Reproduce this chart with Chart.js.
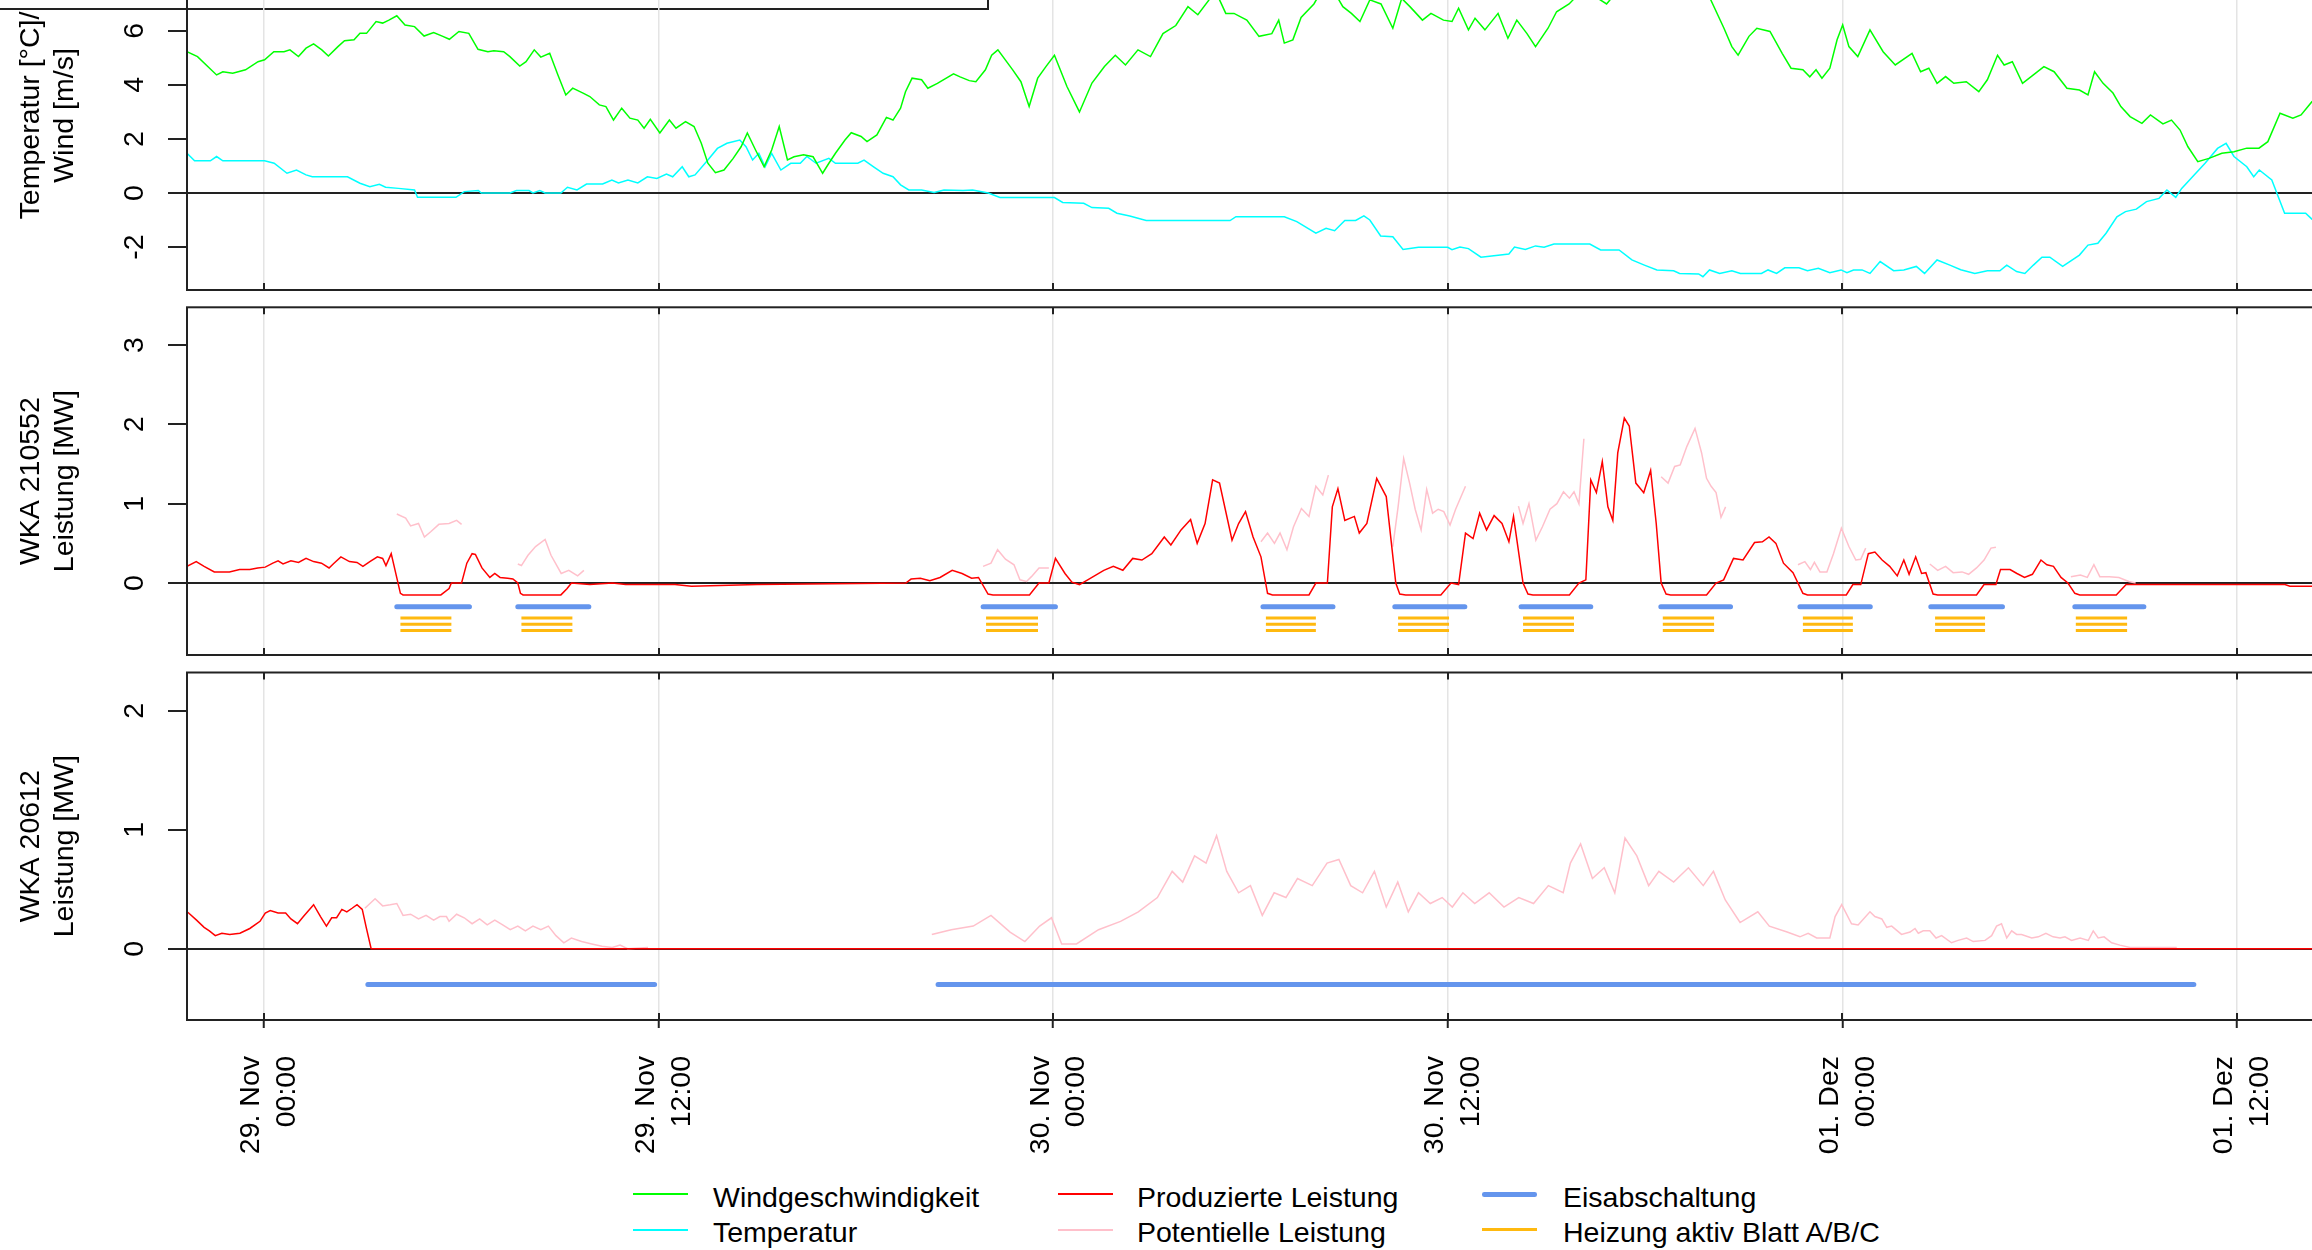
<!DOCTYPE html>
<html><head><meta charset="utf-8">
<script src="https://cdn.jsdelivr.net/npm/chart.js@4.4.1/dist/chart.umd.min.js"></script>
<style>
html,body{margin:0;padding:0;width:2312px;height:1250px;overflow:hidden;background:#fff;position:relative}
canvas{position:absolute;left:0}
.box{position:absolute;left:-20px;top:-100px;width:1009px;height:110px;border:2px solid #222;box-sizing:border-box}
.leg{position:absolute;font-family:"Liberation Sans",Arial,sans-serif;font-size:28.5px;line-height:32px;color:#000;white-space:nowrap}
.ln{position:absolute;height:0}
</style></head><body>
<div class="box"></div>
<canvas id="c1" width="2340" height="359" style="top:-59px"></canvas>
<canvas id="c2" width="2340" height="368" style="top:297px"></canvas>
<canvas id="c3" width="2340" height="498" style="top:662px"></canvas>
<div id="legend"></div>
<script>
// ---------- data (hours relative to 29. Nov 00:00) ----------
const tickHours = [0, 12, 24, 36, 48, 60];
const tickLabels = [['29. Nov','00:00'],['29. Nov','12:00'],['30. Nov','00:00'],['30. Nov','12:00'],['01. Dez','00:00'],['01. Dez','12:00']];
const xRange = [-2.34, 62.83];

const wind = [[-2.34,5.23],[-2.02,5.05],[-1.44,4.37],[-1.25,4.49],[-0.95,4.43],[-0.56,4.56],[-0.18,4.86],[0.02,4.93],[0.30,5.23],[0.61,5.23],[0.79,5.30],[1.05,5.05],[1.28,5.36],[1.51,5.52],[1.76,5.30],[1.96,5.07],[2.25,5.42],[2.45,5.64],[2.74,5.67],[2.92,5.91],[3.12,5.91],[3.41,6.35],[3.61,6.29],[3.80,6.40],[4.04,6.56],[4.29,6.22],[4.58,6.16],[4.87,5.81],[5.16,5.94],[5.44,5.80],[5.64,5.69],[5.93,5.98],[6.23,5.91],[6.51,5.32],[6.81,5.23],[6.99,5.27],[7.29,5.23],[7.48,5.05],[7.78,4.70],[7.97,4.86],[8.22,5.30],[8.42,5.03],[8.69,5.17],[8.94,4.37],[9.18,3.63],[9.39,3.88],[9.72,3.69],[9.91,3.57],[10.20,3.26],[10.40,3.20],[10.63,2.70],[10.88,3.14],[11.13,2.77],[11.37,2.70],[11.56,2.40],[11.75,2.73],[12.04,2.22],[12.33,2.70],[12.53,2.40],[12.82,2.64],[13.08,2.46],[13.30,1.84],[13.50,1.10],[13.73,0.75],[13.99,0.85],[14.27,1.28],[14.51,1.71],[14.70,2.22],[14.95,1.59],[15.21,0.97],[15.44,1.59],[15.67,2.46],[15.92,1.22],[16.12,1.34],[16.41,1.41],[16.70,1.34],[16.99,0.73],[17.18,1.10],[17.38,1.47],[17.67,1.96],[17.86,2.23],[18.16,2.09],[18.34,1.90],[18.64,2.15],[18.93,2.80],[19.13,2.70],[19.36,3.14],[19.51,3.75],[19.71,4.25],[20.00,4.19],[20.19,3.88],[20.48,4.06],[20.97,4.41],[21.17,4.30],[21.45,4.16],[21.65,4.12],[21.94,4.56],[22.13,5.10],[22.32,5.30],[22.77,4.56],[23.02,4.12],[23.27,3.20],[23.53,4.25],[23.78,4.68],[24.04,5.10],[24.42,3.94],[24.80,3.00],[25.18,4.07],[25.56,4.68],[25.89,5.10],[26.20,4.74],[26.58,5.30],[26.96,5.05],[27.34,5.90],[27.73,6.20],[28.10,6.90],[28.40,6.60],[28.74,7.15],[28.89,7.60],[29.25,6.65],[29.50,6.65],[29.89,6.40],[30.26,5.80],[30.65,5.90],[30.86,6.40],[31.03,5.55],[31.29,5.67],[31.54,6.50],[31.93,7.00],[32.17,7.50],[32.57,7.40],[32.81,6.90],[33.07,6.65],[33.33,6.35],[33.63,7.15],[33.97,7.00],[34.33,6.10],[34.60,7.20],[34.85,6.90],[35.23,6.40],[35.49,6.65],[35.87,6.40],[36.13,6.35],[36.33,6.84],[36.63,6.04],[36.83,6.47],[37.13,6.04],[37.53,6.65],[37.83,5.73],[38.10,6.40],[38.41,5.90],[38.67,5.42],[39.05,6.10],[39.31,6.71],[39.69,7.00],[39.93,7.30],[40.32,7.40],[40.83,7.00],[41.24,7.60],[41.85,8.00],[42.45,7.80],[43.06,7.90],[43.67,7.50],[44.00,7.15],[44.40,6.10],[44.64,5.42],[44.83,5.10],[45.16,5.80],[45.40,6.10],[45.80,5.98],[46.17,5.17],[46.44,4.62],[46.80,4.56],[47.01,4.30],[47.20,4.56],[47.38,4.25],[47.62,4.62],[47.84,5.67],[48.01,6.22],[48.20,5.42],[48.47,5.05],[48.84,6.04],[49.24,5.23],[49.61,4.74],[50.12,5.17],[50.38,4.49],[50.63,4.62],[50.88,4.06],[51.14,4.31],[51.39,4.06],[51.77,4.12],[52.15,3.75],[52.41,4.19],[52.72,5.10],[52.92,4.74],[53.17,4.86],[53.48,4.06],[53.81,4.37],[54.13,4.68],[54.44,4.49],[54.83,3.88],[55.21,3.81],[55.47,3.63],[55.67,4.49],[55.93,4.06],[56.23,3.70],[56.47,3.20],[56.75,2.83],[57.11,2.58],[57.37,2.89],[57.75,2.56],[58.01,2.70],[58.27,2.33],[58.51,1.71],[58.81,1.16],[59.15,1.28],[59.54,1.47],[59.91,1.53],[60.30,1.66],[60.67,1.66],[60.94,1.90],[61.31,2.95],[61.70,2.77],[61.95,2.89],[62.28,3.38],[62.83,3.60]];

const temperature = [[-2.34,1.47],[-2.11,1.19],[-1.63,1.19],[-1.44,1.35],[-1.25,1.19],[0.02,1.19],[0.31,1.10],[0.70,0.73],[0.99,0.85],[1.28,0.67],[1.47,0.60],[2.54,0.60],[2.92,0.36],[3.22,0.23],[3.51,0.32],[3.70,0.21],[4.09,0.17],[4.58,0.11],[4.67,-0.16],[5.84,-0.16],[6.09,0.05],[6.52,0.09],[6.61,0],[7.48,0],[7.68,0.09],[8.06,0.09],[8.18,0],[8.39,0.09],[8.55,0],[9.03,0],[9.23,0.21],[9.52,0.11],[9.81,0.33],[10.30,0.33],[10.58,0.48],[10.78,0.37],[11.07,0.48],[11.37,0.37],[11.66,0.60],[11.95,0.54],[12.24,0.70],[12.43,0.60],[12.72,0.97],[12.92,0.60],[13.11,0.67],[13.50,1.22],[13.79,1.65],[14.08,1.84],[14.47,1.96],[14.66,1.71],[14.86,1.22],[15.05,1.47],[15.24,0.97],[15.44,1.47],[15.72,0.85],[16.02,1.10],[16.31,1.10],[16.51,1.35],[16.79,1.10],[17.18,1.28],[17.38,1.10],[18.06,1.10],[18.25,1.22],[18.54,0.97],[18.83,0.73],[19.13,0.60],[19.36,0.30],[19.61,0.11],[20.00,0.11],[20.38,0.02],[20.68,0.11],[21.26,0.09],[21.55,0.11],[22.03,0],[22.38,-0.17],[24.04,-0.17],[24.29,-0.35],[24.93,-0.38],[25.18,-0.54],[25.69,-0.57],[25.94,-0.75],[26.33,-0.85],[26.83,-1.02],[29.38,-1.02],[29.56,-0.88],[31.03,-0.88],[31.41,-1.06],[31.99,-1.49],[32.30,-1.31],[32.56,-1.40],[32.87,-1.02],[33.20,-1.02],[33.45,-0.85],[33.63,-1.00],[33.96,-1.59],[34.33,-1.62],[34.64,-2.09],[35.11,-2.01],[36.00,-2.01],[36.13,-2.10],[36.37,-2.00],[36.63,-2.06],[37.01,-2.38],[37.86,-2.26],[38.03,-2.00],[38.36,-2.09],[38.67,-1.96],[38.93,-2.01],[39.23,-1.89],[40.32,-1.89],[40.65,-2.11],[41.21,-2.11],[41.60,-2.48],[41.98,-2.67],[42.36,-2.85],[42.87,-2.88],[43.05,-2.98],[43.63,-3.00],[43.76,-3.10],[43.96,-2.85],[44.27,-2.98],[44.64,-2.88],[44.90,-2.98],[45.54,-2.98],[45.74,-2.85],[46.00,-2.98],[46.25,-2.77],[46.68,-2.77],[46.94,-2.88],[47.27,-2.79],[47.62,-2.95],[47.96,-2.85],[48.14,-2.95],[48.34,-2.85],[48.60,-2.85],[48.84,-2.98],[49.15,-2.54],[49.56,-2.88],[49.87,-2.85],[50.25,-2.72],[50.50,-2.98],[50.88,-2.48],[51.27,-2.67],[51.60,-2.84],[52.03,-2.98],[52.41,-2.88],[52.79,-2.88],[53.00,-2.67],[53.30,-2.91],[53.55,-2.98],[53.81,-2.67],[54.07,-2.38],[54.31,-2.38],[54.70,-2.72],[55.21,-2.30],[55.47,-1.93],[55.77,-1.86],[56.02,-1.49],[56.35,-0.88],[56.61,-0.69],[56.94,-0.60],[57.25,-0.32],[57.63,-0.20],[57.87,0.11],[58.14,-0.16],[58.32,0.17],[58.65,0.60],[59.03,1.10],[59.41,1.65],[59.67,1.84],[59.91,1.35],[60.30,0.97],[60.51,0.60],[60.68,0.85],[61.06,0.48],[61.45,-0.75],[62.09,-0.75],[62.28,-0.97],[62.83,-1.00]];

const power210552 = [[-2.34,0.21],[-2.06,0.27],[-1.82,0.21],[-1.51,0.14],[-1.05,0.14],[-0.74,0.17],[-0.43,0.17],[-0.19,0.19],[0.04,0.20],[0.27,0.25],[0.43,0.28],[0.58,0.24],[0.82,0.28],[1.05,0.26],[1.28,0.31],[1.51,0.27],[1.75,0.25],[1.98,0.19],[2.13,0.25],[2.34,0.33],[2.60,0.27],[2.83,0.26],[3.01,0.21],[3.22,0.27],[3.45,0.33],[3.61,0.31],[3.71,0.22],[3.87,0.37],[4.15,-0.13],[4.23,-0.15],[5.38,-0.15],[5.63,-0.07],[5.70,0],[6.01,0],[6.17,0.25],[6.33,0.37],[6.43,0.36],[6.63,0.19],[6.87,0.07],[7.02,0.12],[7.18,0.07],[7.41,0.06],[7.57,0.05],[7.72,0],[7.80,-0.13],[7.88,-0.15],[9.03,-0.15],[9.22,-0.07],[9.35,0],[9.91,-0.02],[10.6,0],[11.0,-0.02],[12.5,-0.02],[13.0,-0.04],[15.0,-0.02],[19.52,0],[19.68,0.05],[19.96,0.06],[20.25,0.03],[20.56,0.07],[20.93,0.16],[21.23,0.12],[21.52,0.06],[21.73,0.07],[22.02,-0.14],[22.17,-0.15],[23.28,-0.15],[23.57,0],[23.87,0],[24.07,0.31],[24.36,0.12],[24.57,0.01],[24.80,-0.02],[25.09,0.05],[25.54,0.16],[25.83,0.21],[26.12,0.16],[26.42,0.31],[26.70,0.29],[27.00,0.37],[27.38,0.58],[27.58,0.48],[27.89,0.67],[28.18,0.80],[28.38,0.50],[28.62,0.75],[28.85,1.30],[29.06,1.26],[29.44,0.54],[29.64,0.75],[29.85,0.90],[30.08,0.58],[30.32,0.33],[30.52,-0.13],[30.67,-0.15],[31.78,-0.15],[31.99,0],[32.34,0],[32.49,0.96],[32.66,1.19],[32.87,0.79],[33.16,0.84],[33.31,0.63],[33.54,0.75],[33.84,1.32],[34.13,1.09],[34.42,0],[34.54,-0.14],[34.72,-0.15],[35.79,-0.15],[36.10,0],[36.33,-0.02],[36.54,0.63],[36.77,0.56],[36.97,0.88],[37.18,0.67],[37.41,0.85],[37.65,0.75],[37.86,0.52],[38.00,0.84],[38.29,0],[38.44,-0.14],[38.59,-0.15],[39.70,-0.15],[39.99,0],[40.20,0.04],[40.35,1.30],[40.52,1.14],[40.70,1.53],[40.87,0.96],[41.02,0.79],[41.17,1.64],[41.37,2.08],[41.52,1.98],[41.72,1.26],[41.96,1.14],[42.17,1.42],[42.34,0.75],[42.49,0],[42.64,-0.14],[42.78,-0.15],[43.87,-0.15],[44.16,0],[44.39,0.04],[44.69,0.31],[44.98,0.29],[45.33,0.51],[45.57,0.52],[45.77,0.58],[45.98,0.50],[46.21,0.25],[46.50,0.13],[46.80,-0.13],[46.94,-0.15],[48.12,-0.15],[48.32,-0.02],[48.56,-0.02],[48.79,0.37],[48.99,0.39],[49.21,0.29],[49.44,0.21],[49.67,0.09],[49.87,0.29],[50.03,0.11],[50.23,0.33],[50.41,0.12],[50.54,0.13],[50.76,-0.14],[50.90,-0.15],[52.08,-0.15],[52.31,-0.02],[52.67,-0.02],[52.81,0.17],[53.10,0.17],[53.31,0.12],[53.54,0.07],[53.78,0.11],[54.04,0.29],[54.22,0.23],[54.42,0.21],[54.65,0.07],[54.86,0],[55.07,-0.13],[55.22,-0.15],[56.33,-0.15],[56.63,-0.02],[61.46,-0.02],[61.61,-0.04],[62.83,-0.04]];

const potential210552 = [
 [[4.04,0.87],[4.31,0.82],[4.46,0.72],[4.70,0.75],[4.88,0.58],[5.08,0.65],[5.32,0.74],[5.63,0.75],[5.86,0.79],[6.01,0.74]],
 [[7.72,0.24],[7.83,0.22],[8.03,0.35],[8.26,0.46],[8.55,0.55],[8.73,0.35],[9.04,0.12],[9.27,0.16],[9.54,0.09],[9.73,0.16]],
 [[21.87,0.21],[22.11,0.25],[22.31,0.42],[22.55,0.30],[22.81,0.23],[22.99,0.04],[23.19,0.02],[23.34,0.08],[23.57,0.19],[23.87,0.19]],
 [[30.32,0.52],[30.52,0.63],[30.73,0.50],[30.90,0.63],[31.11,0.42],[31.31,0.71],[31.55,0.94],[31.78,0.84],[31.99,1.22],[32.20,1.11],[32.37,1.36]],
 [[34.33,0.46],[34.49,0.96],[34.66,1.57],[34.84,1.26],[35.01,0.93],[35.19,0.67],[35.36,1.18],[35.54,0.88],[35.71,0.93],[35.88,0.90],[36.07,0.73],[36.24,0.93],[36.54,1.22]],
 [[38.15,0.97],[38.29,0.75],[38.47,1.00],[38.68,0.54],[38.88,0.71],[39.11,0.93],[39.32,1.00],[39.52,1.15],[39.70,1.07],[39.84,1.15],[39.99,1.00],[40.14,1.82]],
 [[42.49,1.34],[42.70,1.26],[42.90,1.47],[43.07,1.49],[43.27,1.72],[43.52,1.95],[43.72,1.64],[43.87,1.32],[44.01,1.22],[44.16,1.14],[44.31,0.83],[44.45,0.96]],
 [[46.65,0.23],[46.86,0.27],[47.03,0.17],[47.15,0.26],[47.32,0.14],[47.53,0.14],[47.73,0.37],[47.97,0.69],[48.20,0.46],[48.41,0.29],[48.56,0.30],[48.71,0.44]],
 [[50.66,0.24],[50.90,0.16],[51.14,0.21],[51.37,0.13],[51.64,0.14],[51.84,0.11],[52.08,0.19],[52.31,0.29],[52.52,0.44],[52.67,0.45]],
 [[54.95,0.08],[55.24,0.10],[55.45,0.07],[55.65,0.23],[55.83,0.08],[56.12,0.08],[56.41,0.07],[56.71,0.02],[56.92,0]]
];
const iceStop210552 = [[4.04,6.25],[7.72,9.88],[21.87,24.07],[30.38,32.51],[34.39,36.52],[38.23,40.35],[42.48,44.60],[46.71,48.85],[50.69,52.87],[55.07,57.17]];
const heating210552 = [[4.15,5.70],[7.83,9.38],[21.96,23.54],[30.47,31.99],[34.49,36.04],[38.29,39.84],[42.54,44.10],[46.80,48.32],[50.82,52.34],[55.10,56.66]];

const power20612 = [[-2.34,0.31],[-2.29,0.30],[-2.05,0.24],[-1.82,0.18],[-1.66,0.15],[-1.48,0.11],[-1.28,0.13],[-1.04,0.12],[-0.73,0.13],[-0.43,0.17],[-0.12,0.23],[0.04,0.30],[0.19,0.32],[0.43,0.30],[0.66,0.30],[0.82,0.25],[1.02,0.21],[1.20,0.27],[1.51,0.37],[1.72,0.27],[1.90,0.19],[2.06,0.26],[2.21,0.26],[2.37,0.33],[2.52,0.31],[2.68,0.34],[2.83,0.37],[2.99,0.33],[3.11,0.18],[3.26,0],[62.83,0]];
const potential20612 = [
 [[3.07,0.34],[3.38,0.42],[3.61,0.36],[3.84,0.37],[4.04,0.38],[4.23,0.28],[4.46,0.29],[4.70,0.25],[4.93,0.28],[5.16,0.24],[5.35,0.27],[5.55,0.27],[5.63,0.23],[5.86,0.29],[6.09,0.26],[6.33,0.21],[6.56,0.25],[6.79,0.20],[7.02,0.24],[7.26,0.20],[7.49,0.16],[7.72,0.19],[7.95,0.15],[8.18,0.19],[8.42,0.16],[8.65,0.19],[8.88,0.11],[9.12,0.05],[9.35,0.09],[9.66,0.06],[9.97,0.04],[10.28,0.02],[10.59,0.01],[10.83,0.03],[11.06,0],[11.68,0.01]],
 [[20.31,0.12],[20.90,0.16],[21.57,0.19],[22.11,0.28],[22.69,0.14],[23.14,0.06],[23.59,0.19],[23.95,0.26],[24.26,0.04],[24.71,0.04],[25.38,0.16],[26.05,0.23],[26.59,0.31],[27.17,0.43],[27.62,0.65],[27.94,0.56],[28.30,0.78],[28.65,0.72],[28.97,0.95],[29.28,0.65],[29.64,0.47],[30.00,0.53],[30.36,0.28],[30.72,0.47],[31.08,0.43],[31.43,0.59],[31.88,0.53],[32.33,0.72],[32.69,0.75],[33.05,0.53],[33.41,0.47],[33.77,0.65],[34.13,0.35],[34.48,0.56],[34.80,0.31],[35.11,0.47],[35.47,0.38],[35.83,0.43],[36.14,0.35],[36.46,0.47],[36.82,0.38],[37.26,0.47],[37.71,0.35],[38.16,0.43],[38.61,0.38],[39.06,0.53],[39.51,0.47],[39.73,0.72],[40.04,0.88],[40.40,0.59],[40.76,0.68],[41.08,0.47],[41.39,0.93],[41.75,0.78],[42.11,0.53],[42.42,0.65],[42.87,0.56],[43.32,0.68],[43.77,0.53],[44.08,0.65],[44.44,0.41],[44.89,0.22],[45.43,0.31],[45.78,0.19],[46.32,0.14],[46.71,0.10],[46.96,0.13],[47.22,0.09],[47.62,0.09],[47.78,0.27],[47.98,0.37],[48.28,0.21],[48.48,0.20],[48.84,0.31],[48.99,0.27],[49.20,0.25],[49.35,0.18],[49.50,0.19],[49.80,0.12],[50.06,0.14],[50.21,0.17],[50.31,0.13],[50.46,0.15],[50.66,0.15],[50.85,0.09],[51.02,0.11],[51.32,0.05],[51.52,0.07],[51.78,0.09],[51.98,0.06],[52.34,0.07],[52.54,0.11],[52.69,0.19],[52.84,0.21],[53.00,0.09],[53.15,0.15],[53.30,0.12],[53.45,0.12],[53.76,0.09],[53.96,0.10],[54.19,0.13],[54.41,0.10],[54.62,0.09],[54.77,0.10],[54.97,0.07],[55.23,0.09],[55.48,0.07],[55.63,0.15],[55.78,0.09],[55.96,0.10],[56.19,0.05],[56.44,0.03],[56.75,0.01],[58.17,0.01]]
];
const iceStop20612 = [[3.16,11.88],[20.50,58.69]];

const iceLevel = -0.3;
const heatLevels = [-0.44, -0.52, -0.60];

const legendItems = [
  {label:'Windgeschwindigkeit', color:'#00ff00', w:2},
  {label:'Temperatur', color:'#00ffff', w:2},
  {label:'Produzierte Leistung', color:'#ff0000', w:2},
  {label:'Potentielle Leistung', color:'#ffc0cb', w:2},
  {label:'Eisabschaltung', color:'#6495ed', w:4.5},
  {label:'Heizung aktiv Blatt A/B/C', color:'#ffb90f', w:2.5}
];

// ---------- helpers ----------
const pts = a => a.map(([x, y]) => ({x, y}));
const segs = s => s.flatMap((seg, i) => (i ? [{x: seg[0][0], y: null}] : []).concat(pts(seg)));
const bars = (ranges, level) => ranges.flatMap(([a, b]) => [{x: a, y: level}, {x: b, y: level}, {x: b, y: null}]);

const FAM = '"Liberation Sans", Arial, sans-serif';
const F = {family: FAM, size: 28.5};
Chart.defaults.font.family = FAM;

const framePlugin = {
  id: 'frame',
  afterDraw(chart) {
    const {ctx, chartArea: a} = chart;
    const x = chart.scales.x;
    ctx.save();
    ctx.strokeStyle = '#222';
    ctx.lineWidth = 2;
    ctx.strokeRect(a.left, a.top, a.right - a.left, a.bottom - a.top);
    ctx.beginPath();
    x.ticks.forEach(t => {
      const px = Math.round(x.getPixelForValue(t.value));
      ctx.moveTo(px, a.top); ctx.lineTo(px, a.top + 7);
      ctx.moveTo(px, a.bottom); ctx.lineTo(px, a.bottom - 7);
    });
    ctx.stroke();
    ctx.restore();
  }
};

function line(data, color, width) {
  return {data, borderColor: color, borderWidth: width, pointRadius: 0, tension: 0, fill: false, spanGaps: false};
}

function panel(id, o) {
  return new Chart(document.getElementById(id), {
    type: 'line',
    data: {datasets: o.datasets},
    options: {
      responsive: false, animation: false, devicePixelRatio: 1,
      layout: {autoPadding: false, padding: {top: o.padTop, right: 10, bottom: 0, left: 0}},
      plugins: {legend: {display: false}, tooltip: {enabled: false}},
      scales: {
        x: {
          type: 'linear', min: xRange[0], max: xRange[1],
          afterFit: s => { s.height = o.xHeight; s.paddingLeft = 0; s.paddingRight = 0; s.paddingTop = 0; s.paddingBottom = 0; },
          border: {display: false},
          grid: {color: '#e4e4e4', lineWidth: 1.5, drawTicks: o.showX, tickLength: 8, tickColor: '#222', tickWidth: 2},
          ticks: {
            display: o.showX, stepSize: 12, includeBounds: false, autoSkip: false,
            minRotation: 90, maxRotation: 90, padding: 28, labelOffset: -12.5,
            color: '#000', font: {family: FAM, size: 28.5, lineHeight: 1.26},
            callback: v => { const i = tickHours.indexOf(v); return i >= 0 ? tickLabels[i] : ''; }
          }
        },
        y: {
          min: o.yMin, max: o.yMax,
          afterFit: s => { s.width = 187; s.paddingTop = 0; s.paddingBottom = 0; s.paddingLeft = 0; s.paddingRight = 0; },
          border: {display: false},
          grid: {color: c => (c.tick && c.tick.value === 0) ? '#222' : 'rgba(0,0,0,0)', lineWidth: 2, tickLength: 19, tickColor: '#222', tickWidth: 2},
          ticks: {stepSize: o.yStep, includeBounds: false, minRotation: 90, maxRotation: 90, crossAlign: 'center', padding: o.labelPad, color: '#000', font: F},
          title: {display: true, text: o.title, color: '#000', font: {family: FAM, size: 28.5, lineHeight: 1.2}, padding: {top: 14, bottom: 0}}
        }
      }
    },
    plugins: [framePlugin]
  });
}

panel('c1', {
  padTop: 0, xHeight: 10, showX: false, yMin: -3.593, yMax: 9.33, yStep: 2, labelPad: 20,
  title: ['Temperatur [°C]/', 'Wind [m/s]'],
  datasets: [line(pts(wind), '#00ff00', 1.5), line(pts(temperature), '#00ffff', 1.5)]
});

panel('c2', {
  padTop: 10.3, xHeight: 10, showX: false, yMin: -0.908, yMax: 3.477, yStep: 1, labelPad: 25,
  title: ['WKA 210552', 'Leistung [MW]'],
  datasets: [
    line(pts(power210552), '#ff0000', 1.5),
    line(segs(potential210552), '#ffc0cb', 1.5),
    Object.assign(line(bars(iceStop210552, iceLevel), '#6495ed', 5), {borderCapStyle: 'round'}),
    ...heatLevels.map(l => line(bars(heating210552, l), '#ffb90f', 3))
  ]
});

panel('c3', {
  padTop: 10.5, xHeight: 140, showX: true, yMin: -0.599, yMax: 2.321, yStep: 1, labelPad: 25,
  title: ['WKA 20612', 'Leistung [MW]'],
  datasets: [
    line(pts(power20612), '#ff0000', 1.5),
    line(segs(potential20612), '#ffc0cb', 1.5),
    Object.assign(line(bars(iceStop20612, iceLevel), '#6495ed', 5), {borderCapStyle: 'round'})
  ]
});

// ---------- legend (HTML, 3 columns x 2 rows) ----------
const legCols = [{line: 633, text: 713}, {line: 1058, text: 1137}, {line: 1482, text: 1563}];
const legRows = [{mid: 1194.3, top: 1180.6}, {mid: 1229.7, top: 1215.8}];
const host = document.getElementById('legend');
legendItems.forEach((it, i) => {
  const col = legCols[Math.floor(i / 2)], row = legRows[i % 2];
  const ln = document.createElement('div');
  ln.className = 'ln';
  ln.style.cssText = `left:${col.line}px;top:${row.mid - it.w / 2}px;width:55px;height:${it.w}px;background:${it.color};border-radius:${it.w > 4 ? it.w / 2 : 0}px`;
  host.appendChild(ln);
  const tx = document.createElement('div');
  tx.className = 'leg';
  tx.style.left = col.text + 'px';
  tx.style.top = row.top + 'px';
  tx.textContent = it.label;
  host.appendChild(tx);
});
</script>
</body></html>
